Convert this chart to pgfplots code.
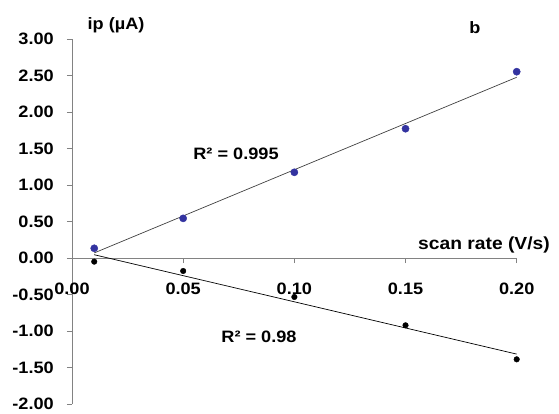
\documentclass[border=0pt]{standalone}
\usepackage{fontspec}
\setmainfont{Liberation Sans}[FakeStretch=1.1]
\usepackage{pgfplots}
\usepackage{pgfplotstable}
\pgfplotsset{compat=1.18}
\definecolor{ptblue}{RGB}{51,51,160}
\definecolor{axgray}{RGB}{130,130,130}
\pgfplotstableread{
X Y
0.01 0.133
0.05 0.543
0.10 1.174
0.15 1.771
0.20 2.552
}\oxid
\pgfplotstableread{
X Y
0.01 -0.050
0.05 -0.178
0.10 -0.534
0.15 -0.922
0.20 -1.388
}\red
\begin{document}
\begin{tikzpicture}
\path[use as bounding box] (0,0) rectangle (559bp,414bp);
\begin{axis}[
  at={(72bp,10bp)}, anchor=south west,
  scale only axis, width=444.7bp, height=365bp,
  xmin=0, xmax=0.2, ymin=-2, ymax=3,
  axis x line=middle, axis y line=left,
  hide obscured x ticks=false, hide obscured y ticks=false,
  axis line style={axgray, line width=0.8pt, -},
  every tick/.style={axgray, line width=0.8pt},
  tick align=outside, major tick length=5bp,
  xtick={0,0.05,0.1,0.15,0.2},
  xticklabels={0.00,0.05,0.10,0.15,0.20},
  ytick={-2,-1.5,-1,-0.5,0,0.5,1,1.5,2,2.5,3},
  yticklabels={-2.00,-1.50,-1.00,-0.50,0.00,0.50,1.00,1.50,2.00,2.50,3.00},
  tick label style={font=\fontsize{16.5bp}{18bp}\selectfont\bfseries},
  xticklabel style={anchor=north, inner sep=0pt, yshift=-20bp},
  yticklabel style={anchor=east, inner sep=0pt, xshift=-13bp},
  clip=false,
]
\addplot[only marks, mark=*, mark size=3.6bp, ptblue, mark options={draw=ptblue, fill=ptblue}] table[x=X, y=Y] {\oxid};
\addplot[no marks, line width=0.7pt, black!75] table[x=X, y={create col/linear regression={y=Y}}] {\oxid};
\addplot[only marks, mark=*, mark size=2.8bp, black] table[x=X, y=Y] {\red};
\addplot[no marks, line width=0.7pt, black] table[x=X, y={create col/linear regression={y=Y}}] {\red};
\end{axis}
\begin{scope}[every node/.style={font=\fontsize{16.5bp}{18bp}\selectfont\bfseries, inner sep=0pt}]
\node at (116bp,389bp) {ip (µA)};
\node at (475bp,386bp) {b};
\node at (236bp,260bp) {R² = 0.995};
\node at (259bp,77bp) {R² = 0.98};
\node[font=\fontsize{17.5bp}{19bp}\selectfont\bfseries] at (484bp,169bp) {scan rate (V/s)};
\end{scope}
\end{tikzpicture}
\end{document}
